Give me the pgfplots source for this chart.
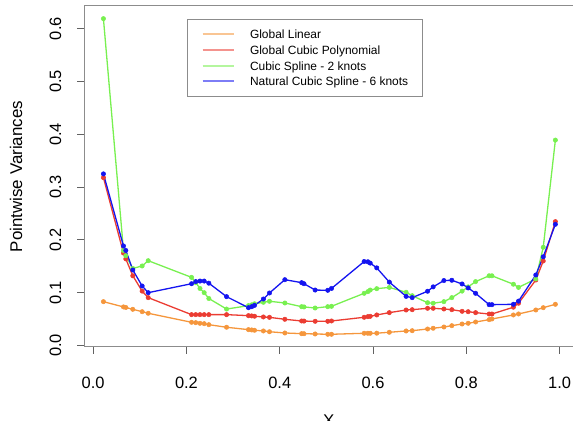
\documentclass[border=0pt]{standalone}
\usepackage{fontspec}
\setmainfont{Liberation Sans}
\usepackage{pgfplots}
\pgfplotsset{compat=1.18}
\usepackage{pgfplotstable}

\definecolor{cOr}{RGB}{245,150,60}
\definecolor{cRe}{RGB}{235,60,50}
\definecolor{cGr}{RGB}{120,240,80}
\definecolor{cBl}{RGB}{20,20,240}
\definecolor{boxgray}{RGB}{140,140,140}

\pgfplotstableread{
x      orange  red     green   blue
0.022  0.083   0.318   0.619   0.325
0.065  0.073   0.175   0.180   0.1885
0.070  0.072   0.164   0.170   0.180
0.085  0.0685  0.132   0.146   0.143
0.105  0.064   0.103   0.1506  0.1127
0.118  0.061   0.0906  0.1606  0.100
0.211  0.0439  0.0584  0.129   0.117
0.220  0.0432  0.0584  0.119   0.121
0.229  0.042   0.0584  0.108   0.122
0.238  0.0413  0.0584  0.100   0.122
0.248  0.0394  0.0584  0.089   0.118
0.286  0.0345  0.0584  0.069   0.0925
0.333  0.030   0.0565  0.0754  0.0716
0.340  0.0294  0.056   0.077   0.0735
0.346  0.0288  0.0554  0.079   0.076
0.365  0.0275  0.054   0.0818  0.088
0.378  0.026   0.0533  0.0837  0.0994
0.411  0.0237  0.0496  0.0805  0.1246
0.447  0.0224  0.0464  0.0735  0.119
0.452  0.0223  0.0462  0.073   0.117
0.476  0.0218  0.0458  0.071   0.105
0.503  0.0212  0.0458  0.0735  0.1045
0.511  0.0212  0.0464  0.0742  0.108
0.581  0.0231  0.0534  0.0988  0.159
0.589  0.0231  0.0546  0.102   0.1585
0.594  0.0231  0.0552  0.105   0.156
0.608  0.0233  0.0578  0.1076  0.147
0.635  0.025   0.0622  0.110   0.120
0.671  0.0275  0.0672  0.1007  0.093
0.684  0.028   0.0678  0.0943  0.0906
0.717  0.0312  0.0704  0.081   0.1027
0.729  0.0326  0.0704  0.080   0.111
0.752  0.035   0.0691  0.083   0.123
0.769  0.0375  0.0678  0.0906  0.1235
0.791  0.0407  0.0647  0.103   0.1165
0.804  0.042   0.064   0.111   0.109
0.820  0.0445  0.0622  0.121   0.0988
0.849  0.0489  0.0596  0.132   0.0773
0.855  0.0502  0.0596  0.132   0.0773
0.901  0.0578  0.0725  0.116   0.078
0.912  0.0597  0.080   0.110   0.084
0.949  0.0672  0.124   0.126   0.1335
0.965  0.0716  0.160   0.186   0.168
0.991  0.078   0.2346  0.389   0.2295
}\data

\begin{document}
\begin{tikzpicture}
\begin{axis}[
  at={(0,0)}, anchor=south west,
  scale only axis, width=488.6bp, height=340.9bp,
  xmin=-0.0188, xmax=1.0288, ymin=-0.0027, ymax=0.643,
  axis line style={draw=boxgray, line width=1bp},
  xtick={0,0.2,0.4,0.6,0.8,1.0},
  ytick={0,0.1,0.2,0.3,0.4,0.5,0.6},
  xtick pos=left, ytick pos=left,
  tick align=outside, major tick length=7bp,
  tick style={draw=boxgray!70!black, line width=1bp},
  /pgf/number format/.cd, fixed, fixed zerofill, precision=1, assume math mode=true,
  /pgfplots/.cd,
  tick label style={font=\fontsize{16.5}{19}\selectfont},
  xticklabel style={anchor=center, yshift=-29bp},
  yticklabel style={rotate=90, anchor=center},
  yticklabel shift=22bp,
  xlabel={X}, ylabel={Pointwise Variances},
  label style={font=\fontsize{17}{20}\selectfont},
  xlabel style={at={([yshift=-74bp]axis description cs:0.5,0)}, anchor=center},
  ylabel style={at={([xshift=-68.4bp]axis description cs:0,0.5)}, anchor=center},
  legend style={at={(axis description cs:0.21,0.9625)}, anchor=north west,
    draw=boxgray, line width=1bp, font=\fontsize{12}{14}\selectfont,
    inner xsep=14.2bp, inner ysep=9.5bp, row sep=4.27bp, column sep=15bp,
    nodes={inner sep=0pt, text height=10bp, text depth=1.4bp},
    column 2/.style={nodes={text width=182bp, align=left}}},
  legend cell align=left,
  legend image code/.code={\draw[#1, line width=2bp, opacity=0.55] (0bp,0bp) -- (31.3bp,0bp);},
  every axis plot/.append style={line width=1.3bp, mark=*, mark size=2.2bp},
]
\addplot[color=cOr, mark options={fill=cOr, line width=0.5bp}] table[x=x, y=orange] {\data};
\addlegendentry{Global Linear}
\addplot[color=cRe, mark options={fill=cRe, line width=0.5bp}] table[x=x, y=red] {\data};
\addlegendentry{Global Cubic Polynomial}
\addplot[color=cGr, mark options={fill=cGr, line width=0.5bp}] table[x=x, y=green] {\data};
\addlegendentry{Cubic Spline - 2 knots}
\addplot[color=cBl, mark options={fill=cBl, line width=0.5bp}] table[x=x, y=blue] {\data};
\addlegendentry{Natural Cubic Spline - 6 knots}
\end{axis}
\pgfresetboundingbox
\path[use as bounding box] (-84.4bp,-74.1bp) rectangle (488.6bp,346.9bp);
\end{tikzpicture}
\end{document}
